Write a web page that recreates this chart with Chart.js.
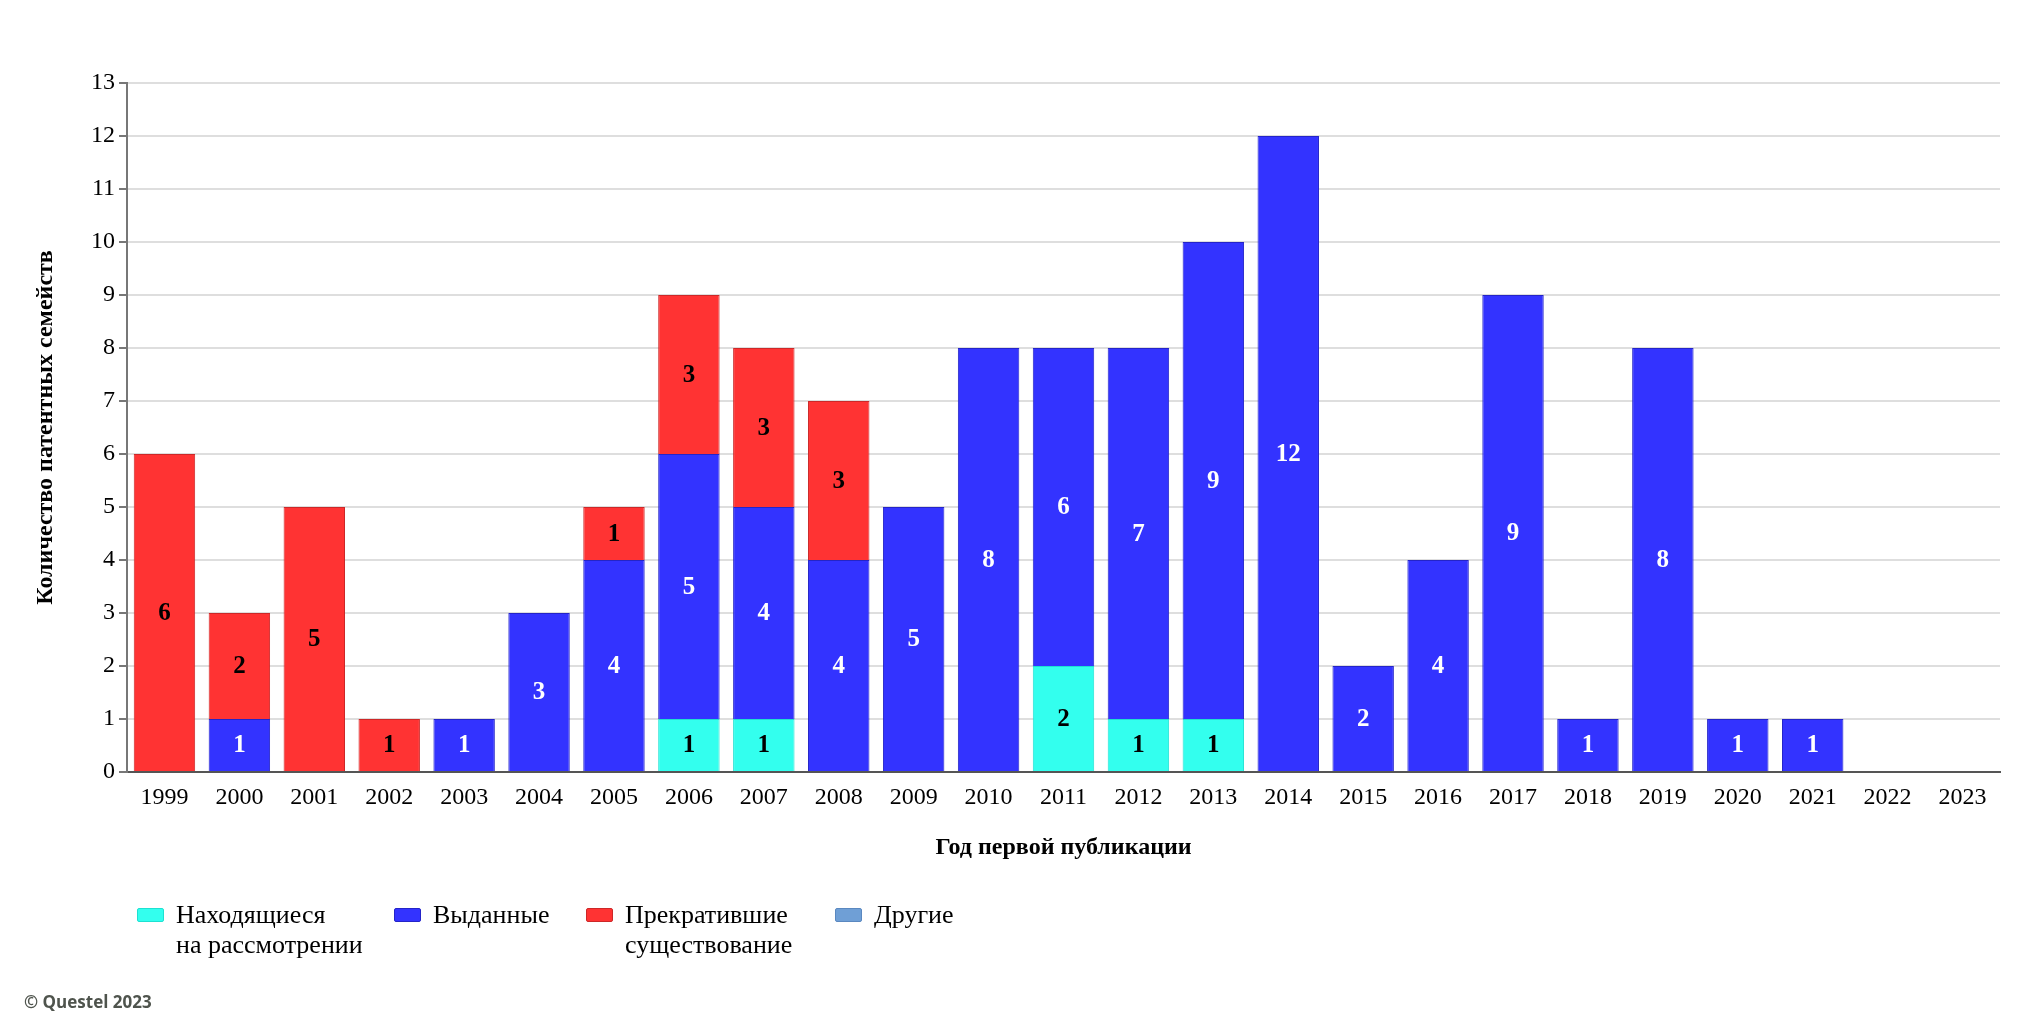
<!DOCTYPE html>
<html>
<head>
<meta charset="utf-8">
<script src="https://cdn.jsdelivr.net/npm/chart.js@4"></script>
<style>
    body { margin: 0; background: #fff; }
    #wrap { position: relative; width: 2036px; height: 1017px; }
    #legend { position: absolute; left: 0; top: 0; font-family: 'Liberation Serif', serif; font-size: 26px; line-height: 30px; color: #000; }
    .item { position: absolute; top: 900px; }
    .box { position: absolute; top: 8px; width: 27px; height: 14px; border-radius: 2px; }
    .txt { position: absolute; white-space: nowrap; }
    #copy { position: absolute; left: 24px; top: 990px; font-family: 'Open Sans', sans-serif; font-weight: bold; font-size: 17px; color: #4f544d; }
</style>
</head>
<body>
<div id="wrap">
    <canvas id="patentChart"></canvas>
    <div id="legend"></div>
    <div id="copy">© Questel 2023</div>
</div>
<script>
const years = ["1999", "2000", "2001", "2002", "2003", "2004", "2005", "2006", "2007", "2008", "2009", "2010", "2011",
    "2012", "2013", "2014", "2015", "2016", "2017", "2018", "2019", "2020", "2021", "2022", "2023"];
const pending = [0,0,0,0,0,0,0,1,1,0,0,0,2,1,1,0,0,0,0,0,0,0,0,0,0];
const granted = [0,1,0,0,1,3,4,5,4,4,5,8,6,7,9,12,2,4,9,1,8,1,1,0,0];
const lapsed  = [6,2,5,1,0,0,1,3,3,3,0,0,0,0,0,0,0,0,0,0,0,0,0,0,0];
const others  = [0,0,0,0,0,0,0,0,0,0,0,0,0,0,0,0,0,0,0,0,0,0,0,0,0];
const yTicks = [0,1,2,3,4,5,6,7,8,9,10,11,12,13];

const serif = 'Liberation Serif';

// draws the value in the middle of each stacked segment
const segmentLabels = {
    id: 'segmentLabels',
    afterDatasetsDraw(chart) {
        const ctx = chart.ctx;
        ctx.save();
        ctx.font = 'bold 25px "' + serif + '"';
        ctx.textAlign = 'center';
        ctx.textBaseline = 'middle';
        chart.data.datasets.forEach((ds, i) => {
            const meta = chart.getDatasetMeta(i);
            if (meta.hidden) return;
            meta.data.forEach((bar, j) => {
                const v = ds.data[j];
                if (!v) return;
                const p = bar.getProps(['x', 'y', 'base'], true);
                ctx.fillStyle = ds.labelColor;
                ctx.fillText(String(v), p.x, (p.y + p.base) / 2 + 1);
            });
        });
        ctx.restore();
    }
};

const chartElement = document.getElementById('patentChart').getContext('2d');
const patentChart = new Chart(chartElement, {
    type: 'bar',
    data: {
        labels: years,
        datasets: [
            {
                label: 'Находящиеся\nна рассмотрении',
                data: pending,
                backgroundColor: 'rgb(51,255,238)',
                borderColor: 'rgb(30,225,210)',
                labelColor: '#000',
                borderWidth: 1
            },
            {
                label: 'Выданные',
                data: granted,
                backgroundColor: 'rgb(51,51,255)',
                borderColor: 'rgb(36,36,200)',
                labelColor: '#fff',
                borderWidth: 1
            },
            {
                label: 'Прекратившие\nсуществование',
                data: lapsed,
                backgroundColor: 'rgb(255,51,51)',
                borderColor: 'rgb(205,40,40)',
                labelColor: '#000',
                borderWidth: 1
            },
            {
                label: 'Другие',
                data: others,
                backgroundColor: 'rgb(111,159,214)',
                borderColor: 'rgb(90,136,192)',
                labelColor: '#000',
                borderWidth: 1
            }
        ]
    },
    options: {
        responsive: true,
        maintainAspectRatio: false,
        animation: false,
        categoryPercentage: 1,
        barPercentage: 0.82,
        layout: {
            padding: { top: 83, left: 10, right: 36, bottom: 150 }
        },
        plugins: {
            legend: { display: false },
            tooltip: { enabled: false }
        },
        scales: {
            x: {
                stacked: true,
                grid: { display: false, drawTicks: false },
                border: { display: true, color: '#555', width: 2 },
                ticks: {
                    color: '#000',
                    padding: 11,
                    maxRotation: 0,
                    autoSkip: false,
                    font: { family: serif, size: 24 }
                },
                title: {
                    display: true,
                    text: 'Год первой публикации',
                    color: '#000',
                    padding: { top: 0, bottom: 5 },
                    font: { family: serif, size: 24, weight: 'bold' }
                },
                afterFit(scale) { scale.height = 95; }
            },
            y: {
                stacked: true,
                min: 0,
                max: 13,
                grid: { color: '#dedede', lineWidth: 2, tickLength: 8, tickColor: '#777' },
                border: { display: true, color: '#777', width: 2 },
                afterBuildTicks(scale) { scale.ticks = yTicks.map(v => ({ value: v })); },
                ticks: {
                    color: '#000',
                    padding: 4,
                    font: { family: serif, size: 24 }
                },
                title: {
                    display: true,
                    text: 'Количество патентных семейств',
                    color: '#000',
                    padding: { top: 21, bottom: 0 },
                    font: { family: serif, size: 24, weight: 'bold' }
                },
                afterFit(scale) { scale.width = 117; }
            }
        }
    },
    plugins: [segmentLabels]
});

// legend positions
const legendX = [137, 394, 586, 835];
const legendGap = 39;
const legendBox = document.getElementById('legend');
patentChart.data.datasets.forEach((ds, i) => {
    const item = document.createElement('div');
    item.className = 'item';
    item.style.left = legendX[i] + 'px';
    const box = document.createElement('div');
    box.className = 'box';
    box.style.background = ds.backgroundColor;
    box.style.border = '1px solid ' + ds.borderColor;
    box.style.boxSizing = 'border-box';
    const txt = document.createElement('div');
    txt.className = 'txt';
    txt.style.left = legendGap + 'px';
    txt.innerHTML = ds.label.split('\n').join('<br>');
    item.appendChild(box);
    item.appendChild(txt);
    legendBox.appendChild(item);
});
</script>
</body>
</html>
